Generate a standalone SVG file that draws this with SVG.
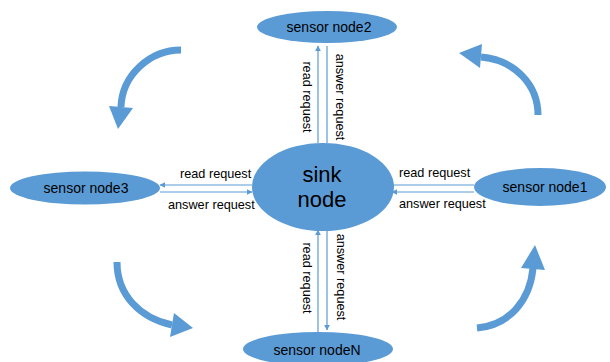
<svg xmlns="http://www.w3.org/2000/svg" width="610" height="362" viewBox="0 0 610 362">
  <style>
    .node { fill: #5B9BD5; }
    .nlabel { font-family: "Liberation Sans", Arial, sans-serif; font-size: 14px; fill: #000; text-anchor: middle; }
    .sink { font-family: "Liberation Sans", Arial, sans-serif; font-size: 22px; fill: #000; text-anchor: middle; }
    .elabel { font-family: "Liberation Sans", Arial, sans-serif; font-size: 12.7px; fill: #000; }
    .link { stroke: #5B9BD5; stroke-width: 1.2; fill: none; }
    .cycle { stroke: #5B9BD5; stroke-width: 7; fill: none; }
    .cyclehead { fill: #5B9BD5; }
  </style>
  <defs>
    <marker id="tip" viewBox="0 0 10 10" refX="9" refY="5" markerWidth="6" markerHeight="6" orient="auto-start-reverse" markerUnits="userSpaceOnUse">
      <path d="M0,0 L10,5 L0,10 z" fill="#5B9BD5"/>
    </marker>
  </defs>

  <rect width="610" height="362" fill="#fff"/>

  <!-- circulation arrows around the network -->
  <g id="cycle-arrows">
    <path class="cycle" d="M181,50 C150,50 122,75 121,107"/>
    <polygon class="cyclehead" points="109,106 133,108 118,129"/>
    <path class="cycle" d="M538,115 C538,85 515,60 481,57"/>
    <polygon class="cyclehead" points="482,44 480,68 459,53"/>
    <path class="cycle" d="M117,262 C117,295 140,318 172,325"/>
    <polygon class="cyclehead" points="174,313 170,337 193,328"/>
    <path class="cycle" d="M477,328 C510,325 530,300 533,268"/>
    <polygon class="cyclehead" points="521,268 545,270 535,245"/>
  </g>

  <!-- request / answer connectors -->
  <g id="connectors">
    <line class="link" x1="318" y1="143" x2="318" y2="46" marker-end="url(#tip)"/>
    <line class="link" x1="327" y1="46" x2="327" y2="143"/>
    <line class="link" x1="318" y1="333" x2="318" y2="230" marker-end="url(#tip)"/>
    <line class="link" x1="327" y1="230" x2="327" y2="330" marker-end="url(#tip)"/>
    <line class="link" x1="252" y1="185" x2="160" y2="185" marker-end="url(#tip)"/>
    <line class="link" x1="160" y1="192" x2="252" y2="192" marker-end="url(#tip)"/>
    <line class="link" x1="392" y1="185" x2="474" y2="185"/>
    <line class="link" x1="474" y1="192" x2="392" y2="192" marker-end="url(#tip)"/>

    <text class="elabel" text-anchor="middle" transform="translate(303,97) rotate(90)">read request</text>
    <text class="elabel" text-anchor="middle" transform="translate(336,97) rotate(90)">answer request</text>
    <text class="elabel" text-anchor="middle" transform="translate(303,278) rotate(90)">read request</text>
    <text class="elabel" text-anchor="middle" transform="translate(337,277) rotate(90)">answer request</text>
    <text class="elabel" x="180" y="178">read request</text>
    <text class="elabel" x="168" y="209">answer request</text>
    <text class="elabel" x="399" y="177">read request</text>
    <text class="elabel" x="399" y="208">answer request</text>
  </g>

  <g id="sink-node">
    <ellipse class="node" cx="323" cy="187" rx="71" ry="44"/>
    <text class="sink" x="322" y="182">sink</text>
    <text class="sink" x="322" y="207">node</text>
  </g>

  <g id="sensor-node2">
    <ellipse class="node" cx="327" cy="27" rx="70" ry="16"/>
    <text class="nlabel" x="329" y="32">sensor node2</text>
  </g>

  <g id="sensor-node3">
    <ellipse class="node" cx="85" cy="188" rx="75" ry="16.5"/>
    <text class="nlabel" x="86" y="193">sensor node3</text>
  </g>

  <g id="sensor-node1">
    <ellipse class="node" cx="540" cy="187" rx="66" ry="19"/>
    <text class="nlabel" x="545" y="192">sensor node1</text>
  </g>

  <g id="sensor-nodeN">
    <ellipse class="node" cx="318" cy="349" rx="75" ry="17"/>
    <text class="nlabel" x="317" y="355">sensor nodeN</text>
  </g>
</svg>
